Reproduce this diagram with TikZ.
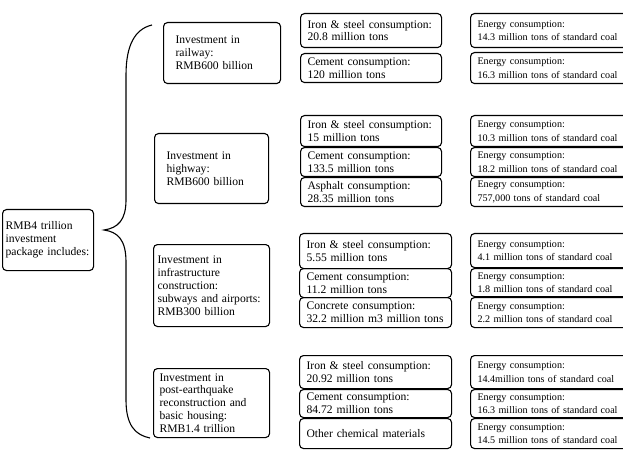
\documentclass[tikz,border=0pt]{standalone}
\usepackage{fontspec}
\setmainfont{Liberation Serif}
\begin{document}
\begin{tikzpicture}[x=1pt,y=-1pt,
  basebox/.style={draw, line width=1.1pt, rounded corners=4pt, anchor=north west, inner ysep=0pt, align=left},
  leftbox/.style={basebox, font=\fontsize{11.6}{12.9}\selectfont},
  midbox/.style={basebox, text width=127pt, inner xsep=7pt, font=\fontsize{11.6}{12.7}\selectfont},
  midboxw/.style={basebox, text width=138pt, inner xsep=7pt, font=\fontsize{11.6}{12.7}\selectfont},
  rbox/.style={basebox, text width=150pt, inner xsep=7pt, font=\fontsize{10.1}{13.4}\selectfont},
  brace/.style={line width=1.1pt}]
\useasboundingbox (0,0) rectangle (623,454);
\fill[white] (0,0) rectangle (623,454);

% root
\node[leftbox, text width=85pt, inner xsep=3pt, minimum height=61pt] (root) at (2,209) {RMB4 trillion\\investment\\package includes:};

% brace
\coordinate (bt) at (152,25);
\coordinate (bb) at (150,438);
\coordinate (tip) at (104,230);
\draw[brace] (bt) .. controls (135,29) and (126,45) .. (126,75) -- (126,200)
  .. controls (126,220) and (118,228) .. (tip)
  .. controls (118,232) and (126,240) .. (126,262) -- (126,400)
  .. controls (126,425) and (135,435) .. (bb);

% left column
\node[leftbox, text width=93pt, inner xsep=12pt, minimum height=61pt] (rail) at (163,22) {Investment in\\railway:\\RMB600 billion};
\node[leftbox, text width=90pt, inner xsep=12pt, minimum height=70pt] (high) at (154,133) {Investment in\\highway:\\RMB600 billion};
\node[leftbox, text width=108pt, inner xsep=4pt, minimum height=82pt] (infra) at (153,244) {Investment in\\infrastructure\\construction:\\subways and airports:\\RMB300 billion};
\node[leftbox, text width=104pt, inner xsep=6pt, minimum height=69pt] (post) at (153,368) {Investment in\\post-earthquake\\reconstruction and\\basic housing:\\RMB1.4 trillion};

% middle column
\node[midbox, minimum height=34pt] (m1) at (300,13) {Iron \& steel consumption:\\20.8 million tons};
\node[midbox, minimum height=29pt] (m2) at (300,53) {Cement consumption:\\120 million tons};
\node[midbox, minimum height=31pt] (m3) at (300,115) {Iron \& steel consumption:\\15 million tons};
\node[midbox, minimum height=29pt] (m4) at (300,147) {Cement consumption:\\133.5 million tons};
\node[midbox, minimum height=29pt] (m5) at (300,177) {Asphalt consumption:\\28.35 million tons};
\node[midboxw, minimum height=35pt] (m6) at (299,233) {Iron \& steel consumption:\\5.55 million tons};
\node[midboxw, minimum height=29pt] (m7) at (299,268) {Cement consumption:\\11.2 million tons};
\node[midboxw, minimum height=30pt] (m8) at (299,297) {Concrete consumption:\\32.2 million m3 million tons};
\node[midboxw, minimum height=33pt] (m9) at (299,355) {Iron \& steel consumption:\\20.92 million tons};
\node[midboxw, minimum height=28pt] (m10) at (299,389) {Cement consumption:\\84.72 million tons};
\node[midboxw, minimum height=30pt] (m11) at (299,418) {Other chemical materials};

% right column
\node[rbox, minimum height=34pt] (e1) at (470,13) {Energy consumption:\\14.3 million tons of standard coal};
\node[rbox, minimum height=31pt] (e2) at (470,52) {Energy consumption:\\16.3 million tons of standard coal};
\node[rbox, minimum height=31pt] (e3) at (470,115) {Energy consumption:\\10.3 million tons of standard coal};
\node[rbox, minimum height=29pt] (e4) at (470,147) {Energy consumption:\\18.2 million tons of standard coal};
\node[rbox, minimum height=29pt] (e5) at (470,177) {Enegry consumption:\\757,000 tons of standard coal};
\node[rbox, minimum height=34pt] (e6) at (470,233) {Energy consumption:\\4.1 million tons of standard coal};
\node[rbox, minimum height=28pt] (e7) at (470,268) {Energy consumption:\\1.8 million tons of standard coal};
\node[rbox, minimum height=30pt] (e8) at (470,297) {Energy consumption:\\2.2 million tons of standard coal};
\node[rbox, minimum height=33pt] (e9) at (470,355) {Energy consumption:\\14.4million tons of standard coal};
\node[rbox, minimum height=28pt] (e10) at (470,389) {Energy consumption:\\16.3 million tons of standard coal};
\node[rbox, minimum height=30pt] (e11) at (470,418) {Energy consumption:\\14.5 million tons of standard coal};
\end{tikzpicture}
\end{document}
